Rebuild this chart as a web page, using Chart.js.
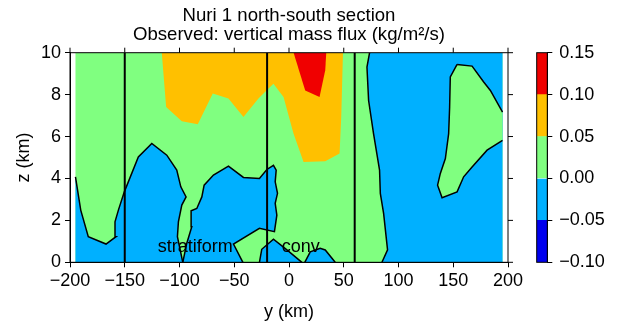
<!DOCTYPE html>
<html>
<head>
<meta charset="utf-8">
<script src="https://cdn.jsdelivr.net/npm/chart.js@4.4.1/dist/chart.umd.min.js"></script>
<style>
html, body { margin: 0; padding: 0; background: #fff; }
#wrap { position: relative; width: 632px; height: 327px; }
#main { position: absolute; left: 0; top: 0; }
#bar { position: absolute; left: 536px; top: 0; }
</style>
</head>
<body>
<div id="wrap">
<canvas id="main" width="632" height="327"></canvas>
<canvas id="bar" width="96" height="327"></canvas>
</div>
<script>
// text
const titleLines = ['Nuri 1 north-south section', 'Observed: vertical mass flux (kg/m\u00b2/s)']
const xTitle = 'y (km)'
const yTitle = 'z (km)'

// colour levels of the flux
const levels = [-0.10, -0.05, 0.00, 0.05, 0.10, 0.15]
const levelColors = ['#0000ee', '#00b0ff', '#80ff80', '#ffc000', '#f00000']

// contour regions, [y km, z km]
const domain = [[-195, 0], [-195, 10], [195, 10], [195, 0]]
const blueLeft = [[-195, 4.08], [-190.2, 2.49], [-183.3, 1.22], [-167.1, 0.87], [-158.0, 1.22], [-158.9, 1.93],
    [-155.8, 2.49], [-150.4, 3.36], [-137.6, 5.03], [-125.3, 5.67], [-111.6, 5.11], [-102.5, 4.40],
    [-98.8, 3.60], [-94.0, 3.12], [-97.9, 2.73], [-101.0, 1.93], [-101.9, 1.22], [-97, 0], [-195, 0], [-195, 4.08]]
const blueMiddle = [[-97, 0], [-93.4, 0.90], [-88.8, 1.70], [-89.4, 2.46], [-84.2, 2.57], [-79.6, 3.12],
    [-77.5, 3.68], [-69.0, 4.16], [-55.3, 4.59], [-41.6, 4.05], [-27.0, 4.0], [-20.2, 4.43], [-14.2, 4.63],
    [-11.7, 4.40], [-12.6, 3.84], [-10.5, 3.29], [-12.6, 2.81], [-11.1, 2.25], [-13.3, 1.46], [-27.0, 1.62],
    [-50.7, 0.87], [-42.1, 0], [-97, 0]]
const blueBottom1 = [[-27.0, 0], [-24.9, 0.62], [-14.2, 1.10], [-1.9, 0.59], [11.8, 0], [-27.0, 0]]
const blueBottom2 = [[14.4, 0], [19.4, 0.50], [28.5, 0.67], [33.1, 0.59], [42.2, 0], [14.4, 0]]
const blueRight = [[73.6, 10], [71.2, 9.31], [72.7, 7.72], [77.2, 6.14], [82.7, 4.40], [83.4, 3.29],
    [86.4, 2.33], [90.0, 0.59], [84.9, 0], [195, 0], [195, 10], [73.6, 10]]
const greenIsland = [[153.5, 9.44], [167.2, 9.36], [177.8, 8.6], [183.9, 8.2], [195, 7.17], [195, 5.82],
    [180.9, 5.35], [167.2, 4.55], [159.5, 4.08], [153.5, 3.36], [139.8, 3.08], [135.7, 3.68], [138.2, 4.24],
    [142.8, 4.95], [145.8, 6.14], [146.7, 7.41], [147.3, 8.84], [153.5, 9.44]]
const orangeTop = [[-116.2, 10], [-112.2, 7.41], [-97.9, 6.73], [-83.3, 6.59], [-69.6, 8.05], [-55.3, 7.81],
    [-41.6, 6.93], [-27.9, 7.81], [-18.7, 8.29], [-14.2, 8.52], [-5, 7.89], [4.1, 6.14], [13.3, 4.79],
    [33.1, 4.82], [46.2, 5.19], [47.7, 6.93], [49.3, 10]]
const redCore = [[4.2, 10], [14.8, 8.2], [27.9, 7.89], [33.1, 9.16], [34, 10]]

const divisions = [-150, -20, 60]
const regionLabels = [['stratiform', -85.7, 0.73], ['conv', 10.7, 0.73]]

Chart.defaults.font.family = '"Liberation Sans", Arial, sans-serif'
Chart.defaults.font.size = 18
Chart.defaults.color = '#000'
Chart.defaults.animation = false

const minus = v => String(v).replace('-', '\u2212')
const toXY = pts => pts.map(p => ({x: p[0], y: p[1]}))

function onEdge(a, b) {
    return (a[0] === b[0] && Math.abs(a[0]) === 195) || (a[1] === b[1] && (a[1] === 0 || a[1] === 10))
}

// pieces of the outline that are real contour (not the domain edge)
function contourPieces(points) {
    const pieces = []
    let cur = [points[0]]
    for (let i = 1; i < points.length; i++) {
        if (onEdge(points[i - 1], points[i])) {
            if (cur.length > 1) pieces.push(cur)
            cur = [points[i]]
        } else {
            cur.push(points[i])
        }
    }
    if (cur.length > 1) pieces.push(cur)
    return pieces
}

function region(points, color, order) {
    return {
        data: toXY(points),
        backgroundColor: color,
        borderColor: 'rgba(0,0,0,0)',
        borderWidth: 0,
        fill: 'shape',
        pointRadius: 0,
        tension: 0,
        order: order
    }
}

function outline(points, order) {
    return contourPieces(points).map(p => ({
        data: toXY(p),
        borderColor: '#000',
        borderWidth: 1.5,
        fill: false,
        pointRadius: 0,
        tension: 0,
        order: order
    }))
}

const frame = {
    id: 'frame',
    afterDraw(chart, args, opts) {
        const {ctx, chartArea: a} = chart
        ctx.save()
        ctx.strokeStyle = '#000'
        ctx.lineWidth = 1
        ctx.strokeRect(a.left, a.top, a.right - a.left, a.bottom - a.top)
        if (opts.mirror) {
            ctx.beginPath()
            chart.scales.x.ticks.forEach(t => {
                const px = chart.scales.x.getPixelForValue(t.value)
                ctx.moveTo(px, a.top)
                ctx.lineTo(px, a.top - 5)
            })
            chart.scales.y.ticks.forEach(t => {
                const py = chart.scales.y.getPixelForValue(t.value)
                ctx.moveTo(a.right, py)
                ctx.lineTo(a.right + 5, py)
            })
            ctx.stroke()
        }
        ctx.restore()
    }
}

const labels = {
    id: 'labels',
    afterDatasetsDraw(chart) {
        const ctx = chart.ctx
        ctx.save()
        ctx.font = '18px "Liberation Sans", Arial, sans-serif'
        ctx.fillStyle = '#000'
        ctx.textAlign = 'center'
        ctx.textBaseline = 'middle'
        regionLabels.forEach(l => {
            ctx.fillText(l[0], chart.scales.x.getPixelForValue(l[1]), chart.scales.y.getPixelForValue(l[2]))
        })
        ctx.restore()
    }
}

const datasets = [
    region(domain, levelColors[2], 10),
    region(blueLeft, levelColors[1], 9),
    region(blueMiddle, levelColors[1], 9),
    region(blueBottom1, levelColors[1], 9),
    region(blueBottom2, levelColors[1], 9),
    region(blueRight, levelColors[1], 9),
    region(greenIsland, levelColors[2], 8),
    region(orangeTop, levelColors[3], 7),
    region(redCore, levelColors[4], 6)
]
;[blueLeft, blueMiddle, blueBottom1, blueBottom2, blueRight, greenIsland].forEach(r => {
    datasets.push(...outline(r, 2))
})
divisions.forEach(d => {
    datasets.push({
        data: [{x: d, y: 0}, {x: d, y: 10}],
        borderColor: '#000',
        borderWidth: 2,
        pointRadius: 0,
        fill: false,
        order: 1
    })
})

new Chart(document.getElementById('main').getContext('2d'), {
    type: 'line',
    data: {datasets: datasets},
    options: {
        responsive: false,
        layout: {padding: {left: 0, right: 124, top: 0, bottom: 0}},
        plugins: {
            legend: {display: false},
            tooltip: {enabled: false},
            title: {
                display: true,
                fullSize: false,
                text: titleLines,
                color: '#000',
                font: {size: 18.6, weight: 'normal', lineHeight: 1.0},
                padding: {top: 7, bottom: 8.5}
            },
            frame: {mirror: true}
        },
        scales: {
            x: {
                type: 'linear',
                min: -200,
                max: 200,
                ticks: {stepSize: 50, padding: 3, maxRotation: 0, callback: minus},
                grid: {drawOnChartArea: false, tickLength: 5, color: '#000'},
                border: {color: '#000'},
                title: {display: true, text: xTitle, padding: {top: 0, bottom: 4}},
                afterFit: s => { s.height = 64.7 }
            },
            y: {
                min: 0,
                max: 10,
                ticks: {stepSize: 2, padding: 4},
                grid: {drawOnChartArea: false, tickLength: 5, color: '#000'},
                border: {color: '#000'},
                title: {display: true, text: yTitle, padding: {top: 13, bottom: 0}},
                afterFit: s => { s.width = 70 }
            }
        }
    },
    plugins: [frame, labels]
})

// colour bar
new Chart(document.getElementById('bar').getContext('2d'), {
    type: 'bar',
    data: {
        labels: [''],
        datasets: levelColors.map((c, i) => ({
            data: [[levels[i], levels[i + 1]]],
            backgroundColor: c,
            borderWidth: 0,
            grouped: false,
            barPercentage: 1,
            categoryPercentage: 1
        }))
    },
    options: {
        responsive: false,
        layout: {padding: {left: 0.7, right: 0, top: 52.7, bottom: 64.7}},
        plugins: {legend: {display: false}, tooltip: {enabled: false}, frame: {mirror: false}},
        scales: {
            x: {display: false},
            y: {
                position: 'right',
                min: levels[0],
                max: levels[levels.length - 1],
                ticks: {stepSize: 0.05, padding: 7, callback: v => minus(v.toFixed(2))},
                grid: {drawOnChartArea: false, tickLength: 5, color: '#000'},
                border: {color: '#000'},
                afterFit: s => { s.width = 84.7 }
            }
        }
    },
    plugins: [frame]
})
</script>
</body>
</html>
